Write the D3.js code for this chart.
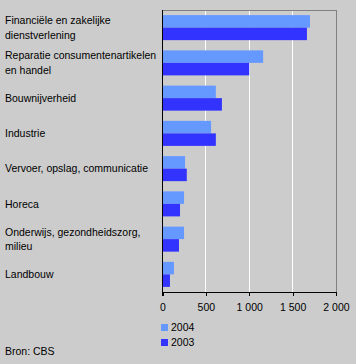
<!DOCTYPE html>
<html><head><meta charset="utf-8">
<script src="https://cdn.jsdelivr.net/npm/d3@7/dist/d3.min.js"></script>
<style>
html,body{margin:0;padding:0;background:#cccccc;}
svg{display:block;font-family:"Liberation Sans",Arial,sans-serif;}
</style></head><body>
<svg id="c" width="356" height="364"></svg>
<script>
const categories = [
  ["Financiële en zakelijke","dienstverlening"],
  ["Reparatie consumentenartikelen","en handel"],
  ["Bouwnijverheid"],
  ["Industrie"],
  ["Vervoer, opslag, communicatie"],
  ["Horeca"],
  ["Onderwijs, gezondheidszorg,","milieu"],
  ["Landbouw"]
];
const values2004 = [1700, 1160, 615, 560, 260, 248, 248, 132];
const values2003 = [1665, 1000, 685, 615, 280, 202, 190, 86];
const seriesNames = ["2004", "2003"];
const seriesColors = ["#6699ff", "#3333ff"];
const xTicks = [0, 500, 1000, 1500, 2000];
const tickLabels = ["0", "500", "1 000", "1 500", "2 000"];
const source = "Bron: CBS";

const svg = d3.select("#c");
const FS = 10.5;
const L = 162.5, R = 336, T = 10, B = 292;
const x = d3.scaleLinear().domain([0, 2000]).range([L, R]);
const y = d3.scaleBand().domain(d3.range(categories.length)).range([T, B]).padding(0);
const step = y.bandwidth();
const barH = step * 0.355, off = step * 0.145;

svg.append("g").selectAll("line").data(xTicks.slice(1, -1)).join("line")
  .attr("x1", d => x(d)).attr("x2", d => x(d)).attr("y1", T).attr("y2", B)
  .attr("stroke", "#ffffff").attr("stroke-width", 1).attr("shape-rendering", "crispEdges");
svg.append("path").attr("d", `M${L},${T}H${R}V${B}`).attr("fill", "none")
  .attr("stroke", "#808080").attr("shape-rendering", "crispEdges");

const series = [values2004, values2003];
series.forEach((vals, si) => {
  svg.append("g").selectAll("rect").data(vals).join("rect")
    .attr("x", x(0)).attr("width", d => x(d) - x(0))
    .attr("y", (d, i) => y(i) + off + si * barH).attr("height", barH)
    .attr("fill", seriesColors[si]);
});

const ax = svg.append("g").attr("transform", `translate(0,${B})`)
  .call(d3.axisBottom(x).tickValues(xTicks).tickFormat((d, i) => tickLabels[i]).tickSize(4).tickSizeOuter(0));
ax.select(".domain").attr("stroke", "#000").attr("shape-rendering", "crispEdges");
ax.selectAll(".tick line").attr("stroke", "#000").attr("shape-rendering", "crispEdges");
ax.selectAll("text").attr("fill", "#000").attr("font-size", FS).attr("dy", "0.35em").attr("y", 15.5)
  .attr("font-family", "Liberation Sans, Arial, sans-serif");
svg.append("line").attr("x1", L).attr("x2", L).attr("y1", T).attr("y2", B + 4)
  .attr("stroke", "#000").attr("shape-rendering", "crispEdges");

const lab = svg.append("g").attr("font-size", FS).attr("fill", "#000");
categories.forEach((lines, i) => {
  const cy = y(i) + step / 2;
  const lh = 14.5;
  const t = lab.append("text").attr("x", 5);
  lines.forEach((s, j) => {
    t.append("tspan").attr("x", 5).attr("y", cy + (j - (lines.length - 1) / 2) * lh).attr("dy", "0.35em").text(s);
  });
});

const lg = svg.append("g");
seriesNames.forEach((n, i) => {
  lg.append("rect").attr("x", 161).attr("y", 324 + i * 15).attr("width", 7).attr("height", 7).attr("fill", seriesColors[i]);
  lg.append("text").attr("x", 171).attr("y", 327.5 + i * 15).attr("dy", "0.35em").attr("font-size", FS).text(n);
});
svg.append("text").attr("x", 5).attr("y", 351).attr("dy", "0.35em").attr("font-size", FS).text(source);
</script>
</body></html>
